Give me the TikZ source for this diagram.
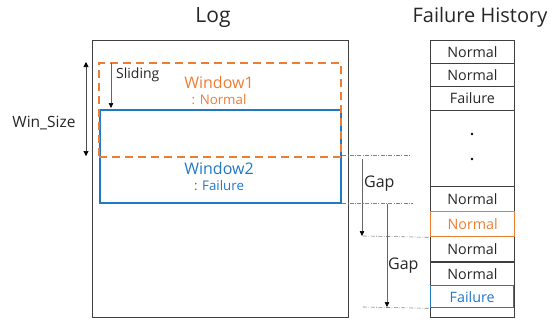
\documentclass[tikz,border=0pt]{standalone}
\usepackage{fontspec}
\setmainfont{Open Sans}
\usetikzlibrary{arrows.meta}
\definecolor{myorange}{HTML}{ED7D31}
\definecolor{myblue}{HTML}{1F78C8}
\definecolor{edgegray}{HTML}{404040}
\begin{document}
\begin{tikzpicture}[x=1pt,y=-1pt,
  fsz/.style={font=\fontsize{#1}{#1}\selectfont},
  plainbox/.style={draw=edgegray, line width=1pt, inner sep=0pt, anchor=north west},
  cell/.style={draw=edgegray, line width=0.9pt, inner sep=0pt, anchor=north west,
    minimum width=84pt, minimum height=#1, fsz=14.3, text=black!85},
  ddot/.style={draw=gray, line width=0.6pt, dash pattern=on 4pt off 1.5pt on 0.7pt off 1.5pt},
  lbl/.style={inner sep=0pt, text=black!85}
]
\useasboundingbox (0,0) rectangle (552,322);

% titles
\node[lbl, fsz=21] (logt) at (213,18) {Log};
\node[lbl, fsz=20] (fht) at (480,17) {Failure History};

% log box
\node[plainbox, minimum width=255.7pt, minimum height=277pt] (log) at (92,40) {};

% windows
\node[draw=myblue, line width=2pt, inner sep=0pt, anchor=north west,
  minimum width=241pt, minimum height=93pt] (w2) at (98.7,109) {};
\node[draw=myorange, line width=2pt, dash pattern=on 8pt off 5pt, inner sep=0pt,
  anchor=north west, minimum width=242pt, minimum height=94pt] (w1) at (98,62) {};

\node[lbl, fsz=16, text=myorange] (w1t) at (219,82) {Window1};
\node[lbl, fsz=13.3, text=myorange] (w1s) at (219,100) {: Normal};
\node[lbl, fsz=16, text=myblue] (w2t) at (219,168) {Window2};
\node[lbl, fsz=13.3, text=myblue] (w2s) at (219,186) {: Failure};

% win size
\coordinate (ws1) at (86,62);
\coordinate (ws2) at (86,156);
\draw[line width=0.6pt, black!70, {Triangle[length=5pt,width=5pt,black]}-{Triangle[length=5pt,width=5pt,black]}] (ws1) -- (ws2);
\node[lbl, fsz=15.5] (wsl) at (44,123) {Win\_Size};

% sliding
\coordinate (s1) at (111,63);
\coordinate (s2) at (111,108);
\draw[line width=0.6pt, black!60, -{Triangle[length=5pt,width=4.5pt,black]}] (s1) -- (s2);
\node[lbl, fsz=14, anchor=west] (sl) at (116,75) {Sliding};

% failure history cells
\node[cell=23.3pt] (c1) at (430,40) {Normal};
\node[cell=22.7pt] (c2) at (430,63.3) {Normal};
\node[cell=24pt] (c3) at (430,86) {Failure};
\node[cell=76pt] (c4) at (430,110) {};
\node[cell=25pt] (c5) at (430,186) {Normal};
\node[cell=25pt] (c7) at (430,236) {Normal};
\node[cell=23pt] (c8) at (430,262) {Normal};
\node[cell=10pt] (c10) at (430,307) {};
\node[cell=22pt, draw=edgegray] (c9) at (430,285) {};
\node[cell=25pt, draw=myorange, line width=1.3pt, text=myorange] (c6) at (430,211) {Normal};
\node[cell=22pt, minimum width=83pt, draw=myblue, line width=1.3pt, text=myblue] (c9b) at (430,285) {Failure};
\fill[black] (472,134) circle (1.3pt);
\fill[black] (472,159) circle (1.3pt);

% dash-dot guide lines
\coordinate (g1a) at (342,155); \coordinate (g1b) at (411,155);
\coordinate (g2a) at (342,203); \coordinate (g2b) at (413,203);
\coordinate (g3a) at (363,236);
\coordinate (g4a) at (363,307);
\draw[ddot] (g1a) -- (g1b);
\draw[ddot] (g2a) -- (g2b);
\draw[ddot] (g3a) -- (c6.south west);
\draw[ddot] (g4a) -- (c9b.south west);

% gap arrows
\coordinate (ga1) at (362,159); \coordinate (gb1) at (362,236);
\coordinate (ga2) at (387,204); \coordinate (gb2) at (387,307);
\draw[line width=0.6pt, black!60, -{Triangle[length=5pt,width=4.5pt,black]}] (ga1) -- (gb1);
\draw[line width=0.6pt, black!60, -{Triangle[length=5pt,width=4.5pt,black]}] (ga2) -- (gb2);
\node[lbl, fsz=16, anchor=west] (gap1) at (364,184) {Gap};
\node[lbl, fsz=16, anchor=west] (gap2) at (388,266) {Gap};
\end{tikzpicture}
\end{document}
